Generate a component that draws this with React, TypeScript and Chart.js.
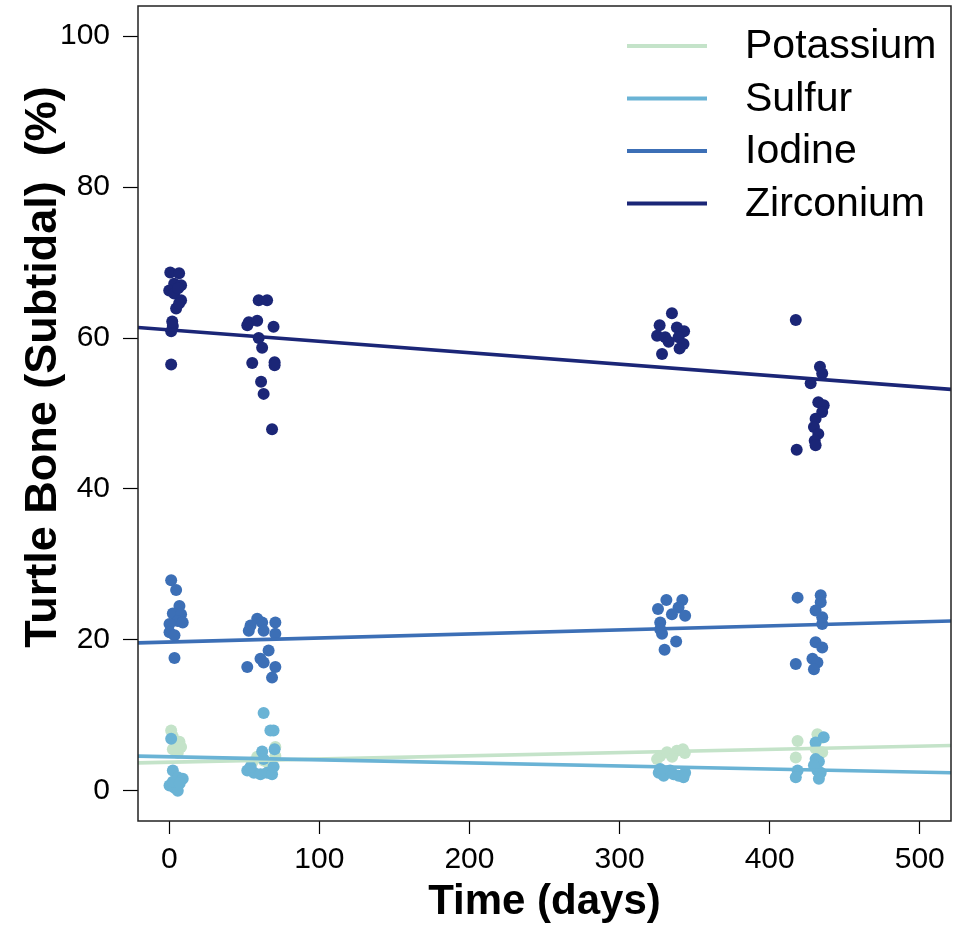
import React, { useEffect, useRef } from "react";
import { Chart, registerables } from "chart.js";

Chart.register(...registerables);

// ---- axis ticks & titles ----
const xTickValues = [0, 100, 200, 300, 400, 500];
const yTickValues = [0, 20, 40, 60, 80, 100];
const xTitle = "Time (days)";
const yTitle = "Turtle Bone (Subtidal)  (%)";

// ---- series ----
const seriesNames = ["Potassium", "Sulfur", "Iodine", "Zirconium"];
const seriesColors = ["#c4e3c9", "#6ab3d5", "#3c6fb6", "#1b2677"];

const potassiumDays = [1.3, 2.4, 6.8, 4.6, 2.4, 5.7, 7.9, 70.7, 70.7, 58.6, 62.9, 66.3, 55.3, 69.5, 327.1, 331.6, 338.2, 342.2, 325.0, 335.0, 343.5, 418.6, 431.8, 417.4, 435.0, 430.6, 433.9];
const potassiumValues = [8.0, 7.2, 6.5, 6.0, 5.5, 5.0, 5.8, 5.8, 4.6, 4.5, 4.0, 3.6, 3.8, 3.2, 4.6, 5.1, 5.3, 5.5, 4.2, 4.5, 5.0, 6.6, 7.5, 4.4, 5.1, 5.6, 7.0];

const sulfurDays = [1.3, 2.4, 5.7, 9.0, 0.2, 3.5, 5.7, 2.4, 7.0, 62.9, 69.5, 67.4, 70.2, 61.9, 52.0, 56.4, 60.8, 65.2, 68.5, 54.2, 69.5, 62.9, 326.1, 329.4, 333.7, 339.3, 343.7, 327.1, 342.6, 336.0, 430.6, 436.0, 430.6, 432.8, 418.6, 417.4, 431.8, 434.0, 432.8, 429.5];
const sulfurValues = [6.9, 2.7, 1.8, 1.6, 0.7, 0.4, 0.0, 1.2, 1.0, 10.3, 8.0, 8.0, 5.5, 5.2, 2.7, 2.4, 2.2, 2.4, 2.2, 3.2, 3.2, 4.2, 2.4, 2.0, 2.7, 2.0, 2.4, 2.9, 1.8, 2.2, 6.4, 7.1, 4.2, 3.9, 2.7, 1.8, 2.7, 2.4, 1.6, 3.4];

const iodineDays = [1.3, 4.6, 6.8, 2.4, 7.9, 5.7, 0.2, 9.0, 0.2, 3.5, 3.5, 58.6, 54.2, 61.9, 70.7, 53.0, 62.9, 70.7, 66.2, 60.8, 62.9, 52.0, 70.7, 68.5, 331.2, 341.8, 325.6, 339.3, 334.9, 343.7, 327.1, 327.1, 328.3, 337.7, 330.0, 418.6, 434.0, 434.0, 430.6, 435.0, 435.0, 430.6, 435.0, 428.5, 431.8, 417.4, 429.5];
const iodineValues = [27.9, 26.6, 24.5, 23.5, 23.4, 22.5, 22.1, 22.3, 21.0, 20.6, 17.6, 22.8, 21.9, 22.3, 22.3, 21.2, 21.2, 20.8, 18.6, 17.5, 17.0, 16.4, 16.4, 15.0, 25.3, 25.3, 24.1, 24.3, 23.4, 23.2, 22.3, 21.4, 20.8, 19.8, 18.7, 25.6, 25.9, 25.0, 23.9, 23.0, 22.1, 19.7, 19.0, 17.5, 17.0, 16.8, 16.1];

const zirconiumDays = [0.7, 6.6, 3.3, 7.9, 0.0, 3.3, 7.9, 4.6, 2.4, 1.3, 1.3, 5.9, 6.6, 2.0, 59.6, 65.2, 53.0, 58.6, 52.0, 69.5, 59.6, 61.9, 55.3, 70.2, 70.2, 61.2, 62.9, 68.5, 334.9, 326.7, 338.2, 343.0, 325.0, 330.4, 339.3, 332.7, 342.6, 340.0, 328.3, 417.4, 433.5, 435.0, 427.3, 432.4, 436.0, 435.0, 430.6, 429.5, 432.4, 430.0, 430.6, 418.0];
const zirconiumValues = [68.7, 68.6, 67.2, 67.0, 66.3, 65.9, 65.0, 63.9, 61.6, 60.9, 56.5, 66.6, 64.6, 62.2, 65.0, 65.0, 62.1, 62.3, 61.7, 61.5, 60.0, 58.7, 56.7, 56.8, 56.4, 54.2, 52.6, 47.9, 63.3, 61.7, 61.4, 60.9, 60.3, 60.1, 60.1, 59.5, 59.2, 58.6, 57.9, 62.4, 56.2, 55.3, 54.0, 51.5, 51.1, 50.2, 49.3, 48.2, 47.3, 46.4, 45.8, 45.2];

// ---- fitted trend lines (values at the two ends of the x range) ----
const fitDays = [-20.8, 520.8];
const potassiumFit = [3.7, 6.0];
const sulfurFit = [4.6, 2.4];
const iodineFit = [19.6, 22.5];
const zirconiumFit = [61.4, 53.2];

const allDays = [potassiumDays, sulfurDays, iodineDays, zirconiumDays];
const allValues = [potassiumValues, sulfurValues, iodineValues, zirconiumValues];
const allFits = [potassiumFit, sulfurFit, iodineFit, zirconiumFit];

const FONT = '"Liberation Sans", Arial, Helvetica, sans-serif';

const boxPlugin = {
  id: "boxAndText",
  afterDraw(chart: any) {
    const { ctx, chartArea } = chart;
    ctx.save();
    // frame
    ctx.strokeStyle = "#222";
    ctx.lineWidth = 1.5;
    ctx.strokeRect(chartArea.left, chartArea.top, chartArea.right - chartArea.left, chartArea.bottom - chartArea.top);
    // y title
    ctx.translate(44, 367);
    ctx.rotate(-Math.PI / 2);
    ctx.font = `bold 45px ${FONT}`;
    ctx.fillStyle = "#000";
    ctx.textAlign = "center";
    ctx.textBaseline = "middle";
    ctx.fillText(yTitle, 0, 0);
    ctx.restore();

    // legend
    ctx.save();
    ctx.font = `41px ${FONT}`;
    ctx.textBaseline = "middle";
    ctx.textAlign = "left";
    seriesNames.forEach((name, i) => {
      const y = 46 + i * 52.5;
      ctx.strokeStyle = seriesColors[i];
      ctx.lineWidth = 4;
      ctx.beginPath();
      ctx.moveTo(627, y);
      ctx.lineTo(707, y);
      ctx.stroke();
      ctx.fillStyle = "#000";
      ctx.fillText(name, 745, y + 1);
    });
    ctx.restore();
  },
};

const zeroPad = (s: any) => {
  s.paddingTop = 0;
  s.paddingBottom = 0;
  s.paddingLeft = 0;
  s.paddingRight = 0;
};

export default function App() {
  const ref = useRef<HTMLCanvasElement | null>(null);

  useEffect(() => {
    if (!ref.current) return;
    const datasets: any[] = [];
    seriesNames.forEach((name, i) => {
      datasets.push({
        type: "scatter",
        label: name + " samples",
        data: allDays[i].map((d, j) => ({ x: d, y: allValues[i][j] })),
        backgroundColor: seriesColors[i],
        borderWidth: 0,
        pointRadius: 6,
        pointHoverRadius: 6,
        order: 7 - i,
      });
      datasets.push({
        type: "line",
        label: name,
        data: fitDays.map((d, j) => ({ x: d, y: allFits[i][j] })),
        borderColor: seriesColors[i],
        borderWidth: 3.6,
        pointRadius: 0,
        fill: false,
        tension: 0,
        order: 3 - i,
      });
    });

    const chart = new Chart(ref.current, {
      type: "scatter",
      data: { datasets },
      options: {
        responsive: false,
        animation: false,
        layout: { padding: { top: 5, right: 2, left: 0, bottom: 0 } },
        plugins: { legend: { display: false }, tooltip: { enabled: false } },
        scales: {
          x: {
            type: "linear",
            position: "bottom",
            min: -20.8,
            max: 520.8,
            afterBuildTicks: (s: any) => {
              s.ticks = xTickValues.map((v) => ({ value: v }));
            },
            afterFit: (s: any) => {
              s.height = 104;
              zeroPad(s);
            },
            border: { display: false },
            grid: { drawOnChartArea: false, drawTicks: true, tickLength: 13, tickColor: "#000", tickWidth: 1.2, color: "#000" },
            ticks: { color: "#000", font: { family: FONT, size: 30 }, padding: 8, maxRotation: 0, autoSkip: false },
            title: { display: true, text: xTitle, color: "#000", font: { family: FONT, size: 42, weight: "bold", lineHeight: 1 }, padding: { top: 0, bottom: 2 } },
          },
          y: {
            type: "linear",
            min: -4,
            max: 104,
            afterBuildTicks: (s: any) => {
              s.ticks = yTickValues.map((v) => ({ value: v }));
            },
            afterFit: (s: any) => {
              s.width = 138;
              zeroPad(s);
            },
            border: { display: false },
            grid: { drawOnChartArea: false, drawTicks: true, tickLength: 15, tickColor: "#000", tickWidth: 1.2, color: "#000" },
            ticks: { color: "#000", font: { family: FONT, size: 30 }, padding: 13, autoSkip: false },
          },
        },
      },
      plugins: [boxPlugin],
    } as any);
    return () => chart.destroy();
  }, []);

  return (
    <div style={{ position: "fixed", left: 0, top: 0, width: 957, height: 925, background: "#fff" }}>
      <canvas ref={ref} width={957} height={925} />
    </div>
  );
}
